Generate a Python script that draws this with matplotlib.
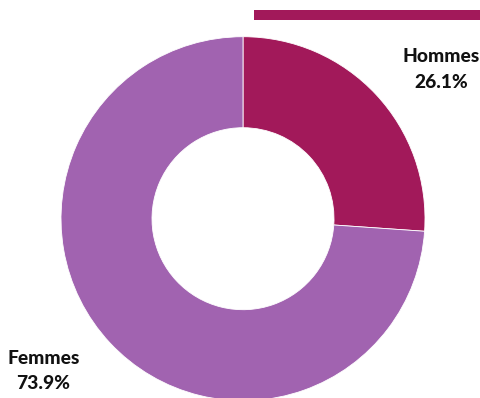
import matplotlib
matplotlib.use("Agg")
import matplotlib.pyplot as plt
from matplotlib.patches import Rectangle

labels = ["Hommes", "Femmes"]
values = [26.1, 73.9]
colors = ["#A2195A", "#A163B0"]

W, H = 481, 398
fig = plt.figure(figsize=(W / 100, H / 100), dpi=100)
ax = fig.add_axes([0, 0, 1, 1])
ax.set_xlim(0, W)
ax.set_ylim(0, H)
ax.axis("off")

cx, cy = 243, H - 218.7
R = 182
ax.pie(values, colors=colors, startangle=90, counterclock=False,
       radius=R, center=(cx, cy),
       wedgeprops=dict(width=R * 0.5, edgecolor="white", linewidth=0.6))
ax.set_xlim(0, W)
ax.set_ylim(0, H)
ax.set_aspect("auto")

# decorative bar
ax.add_patch(Rectangle((254, H - 20), 227, 10, color=colors[0], lw=0))

font = dict(family=["Lato", "DejaVu Sans"], fontweight="black", fontsize=13.8,
            color="#111111", ha="center", va="center_baseline")
ax.text(441, H - 55, labels[0], **font)
ax.text(441, H - 80.5, f"{values[0]:.1f}%", **font)
ax.text(43.5, H - 357, labels[1], **font)
ax.text(43.5, H - 382, f"{values[1]:.1f}%", **font)

fig.savefig("out.png", dpi=100)
